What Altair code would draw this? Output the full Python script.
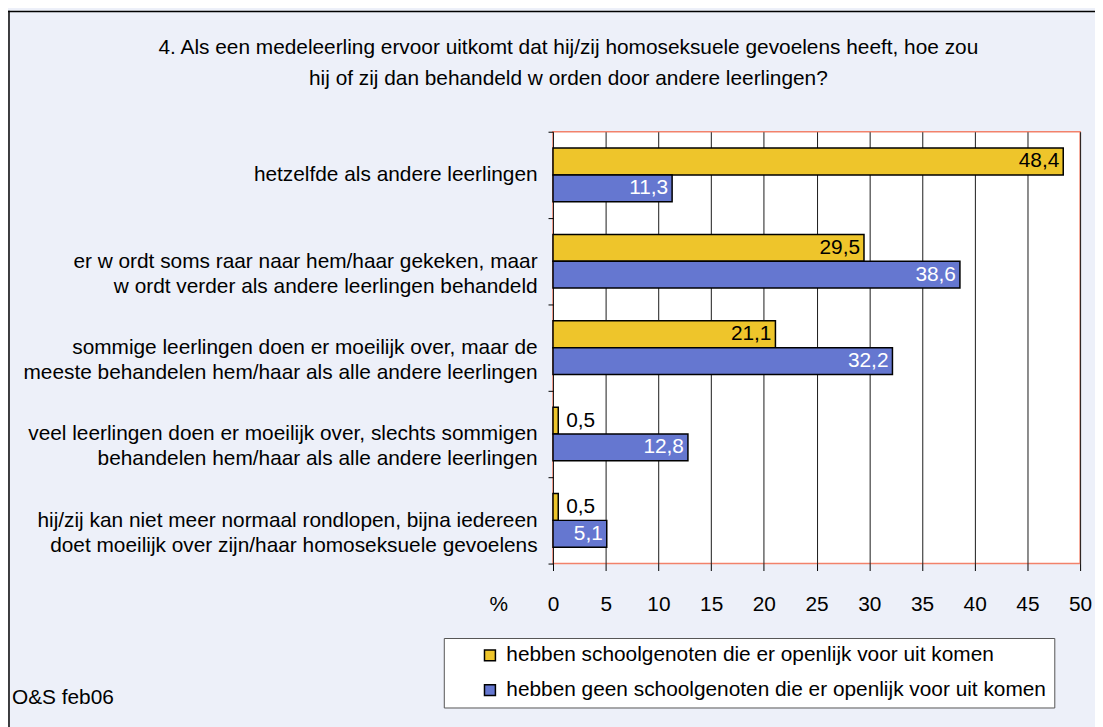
import altair as alt
import pandas as pd

FONT = "Liberation Sans"

categories = [
    "hetzelfde als andere leerlingen",
    "er w ordt soms raar naar hem/haar gekeken, maar|w ordt verder als andere leerlingen behandeld",
    "sommige leerlingen doen er moeilijk over, maar de|meeste behandelen hem/haar als alle andere leerlingen",
    "veel leerlingen doen er moeilijk over, slechts sommigen|behandelen hem/haar als alle andere leerlingen",
    "hij/zij kan niet meer normaal rondlopen, bijna iedereen|doet moeilijk over zijn/haar homoseksuele gevoelens",
]
series = [
    "hebben schoolgenoten die er openlijk voor uit komen",
    "hebben geen schoolgenoten die er openlijk voor uit komen",
]
values_open = [48.4, 29.5, 21.1, 0.5, 0.5]
values_geen = [11.3, 38.6, 32.2, 12.8, 5.1]
x_ticks = [0, 5, 10, 15, 20, 25, 30, 35, 40, 45, 50]
colors = ["#EEC52B", "#6577D0"]
title_lines = [
    "4. Als een medeleerling ervoor uitkomt dat hij/zij homoseksuele gevoelens heeft, hoe zou",
    "hij of zij dan behandeld w orden door andere leerlingen?",
]
footnote = ["O&S feb06"]

rows = []
for s, vals in zip(series, [values_open, values_geen]):
    for c, v in zip(categories, vals):
        rows.append({"cat": c, "series": s, "pct": v,
                     "label": f"{v:.1f}".replace(".", ",")})
df = pd.DataFrame(rows)

y_enc = alt.Y(
    "cat:N", sort=categories,
    scale=alt.Scale(paddingInner=0, paddingOuter=0),
    axis=alt.Axis(
        title=None, labelExpr="split(datum.label, '|')", labelAlign="right",
        labelBaseline="middle", labelFontSize=21, labelFont=FONT, labelColor="black",
        labelLineHeight=25, labelLimit=0, tickBand="extent", tickSize=5,
        tickColor="black", domain=False, labelPadding=11,
    ),
)
yoff_enc = alt.YOffset("series:N", sort=series,
                       scale=alt.Scale(paddingInner=0, paddingOuter=0.61))
x_enc = alt.X(
    "pct:Q", scale=alt.Scale(domain=[0, 50], nice=False, zero=True),
    axis=alt.Axis(
        values=x_ticks, format="d", title="%", titleX=-55, titleY=30,
        titleAlign="center", titleBaseline="top", titleFontWeight="normal",
        titleFontSize=21, titleFont=FONT, titleColor="black",
        labelFontSize=21, labelFont=FONT, labelColor="black", labelPadding=23,
        labelFlush=False, tickSize=7, tickColor="black", domain=False,
        grid=True, gridColor="#1a1a1a", gridWidth=1,
    ),
)

base = alt.Chart(df)

bars = base.mark_bar(stroke="black", strokeWidth=1.5).encode(
    x=x_enc, y=y_enc, yOffset=yoff_enc,
    color=alt.Color(
        "series:N", sort=series, scale=alt.Scale(domain=series, range=colors),
        legend=alt.Legend(
            orient="none", legendX=-110, legendY=510, title=None,
            symbolType="square", symbolSize=121, symbolStrokeColor="black",
            symbolStrokeWidth=1.5, labelFontSize=21,
            labelFont=FONT, labelColor="black", labelLimit=0,
            fillColor="white", strokeColor="#555555", padding=7,
            rowPadding=13, symbolOffset=29, labelOffset=6, direction="vertical",
        ),
    ),
)

inside = base.transform_filter("datum.pct >= 3").mark_text(
    align="right", baseline="middle", dx=-4, fontSize=21, font=FONT
).encode(
    x="pct:Q", y=alt.Y("cat:N", sort=categories), yOffset=alt.YOffset("series:N", sort=series),
    text="label:N",
    color=alt.condition(alt.datum.series == series[0], alt.value("black"), alt.value("white")),
)

outside = base.transform_filter("datum.pct < 3").mark_text(
    align="left", baseline="middle", dx=8, fontSize=21, font=FONT, color="black"
).encode(
    x="pct:Q", y=alt.Y("cat:N", sort=categories), yOffset=alt.YOffset("series:N", sort=series),
    text="label:N",
)

note = alt.Chart(pd.DataFrame({"t": footnote})).mark_text(
    align="left", baseline="middle", fontSize=21, font=FONT, color="black"
).encode(x=alt.value(-545), y=alt.value(570), text="t:N")

border_left = alt.Chart(pd.DataFrame({"a": [0]})).mark_rule(color="black", strokeWidth=1.5).encode(
    x=alt.value(-548), y=alt.value(-122), y2=alt.value(600))
border_top = alt.Chart(pd.DataFrame({"a": [0]})).mark_rule(color="black", strokeWidth=1.5).encode(
    y=alt.value(-121), x=alt.value(-549), x2=alt.value(560))

chart = alt.layer(bars, inside, outside, note, border_left, border_top).properties(
    width=531, height=435,
    autosize=alt.AutoSizeParams(type="none"),
    padding={"left": 549, "top": 122, "right": 15, "bottom": 162},
    background="#EDF0F9",
    title=alt.Title(
        title_lines, fontSize=21, font=FONT, fontWeight="normal", color="black",
        anchor="middle", dx=-250, offset=-80, lineHeight=32,
    ),
).configure_view(stroke="#F2826B", strokeWidth=1.5, fill="white")

chart.save("out.html", embed_options={"renderer": "svg", "actions": False})
